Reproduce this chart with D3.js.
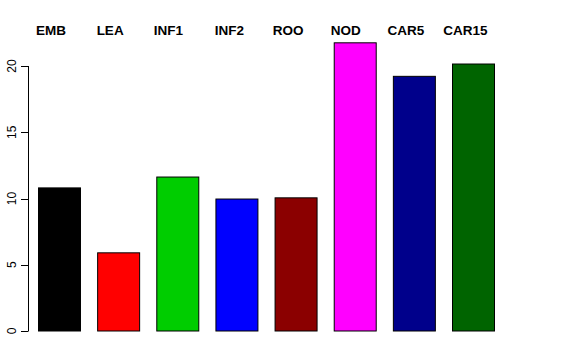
<!DOCTYPE html>
<html>
<head>
<meta charset="utf-8">
<script src="https://cdn.jsdelivr.net/npm/d3@7"></script>
<style>
  body { margin: 0; background: #fff; }
  svg { display: block; font-family: "Liberation Sans", Arial, sans-serif; }
</style>
</head>
<body>
<svg id="chart"></svg>
<script>
const width = 576;
const height = 360;

const categories = ["EMB", "LEA", "INF1", "INF2", "ROO", "NOD", "CAR5", "CAR15"];
const values = [10.8, 5.9, 11.62, 9.96, 10.05, 21.75, 19.22, 20.15];
const colors = ["#000000", "#ff0000", "#00cd00", "#0000ff", "#8b0000", "#ff00ff", "#00008b", "#006400"];
const yTicks = [0, 5, 10, 15, 20];
// how far each top label sits from its bar centre (px)
const labelShift = [-8, -8, -9, -7, -7.5, -9, -8, -7.5];

const svg = d3.select("#chart").attr("width", width).attr("height", height);

const x = d3.scaleBand().domain(categories).range([38, 494]).paddingInner(0.29).paddingOuter(0);
const y = d3.scaleLinear().domain([0, 20]).range([331, 66]);

svg.selectAll(".bar").data(categories).enter().append("rect")
  .attr("class", "bar")
  .attr("x", d => x(d) + 0.5)
  .attr("y", (d, i) => y(values[i]))
  .attr("width", x.bandwidth())
  .attr("height", (d, i) => y(0) - y(values[i]))
  .attr("fill", (d, i) => colors[i])
  .attr("stroke", "#000")
  .attr("stroke-width", 1);

// labels above the plot
svg.selectAll(".lab").data(categories).enter().append("text")
  .attr("class", "lab")
  .attr("x", (d, i) => x(d) + x.bandwidth() / 2 + labelShift[i])
  .attr("y", 35)
  .attr("text-anchor", "middle")
  .style("font-size", "13.5px")
  .style("font-weight", "bold")
  .text(d => d);

// y axis, R style
const axis = svg.append("g");
axis.append("line")
  .attr("x1", 28.5).attr("x2", 28.5)
  .attr("y1", y(0)).attr("y2", y(20))
  .attr("stroke", "#000");
axis.selectAll(".tick").data(yTicks).enter().append("line")
  .attr("x1", 21).attr("x2", 28.5)
  .attr("y1", d => Math.round(y(d)) + 0.5).attr("y2", d => Math.round(y(d)) + 0.5)
  .attr("stroke", "#000");
axis.selectAll(".tl").data(yTicks).enter().append("text")
  .attr("transform", d => `translate(16,${y(d)}) rotate(-90)`)
  .attr("text-anchor", "middle")
  .style("font-size", "12px")
  .text(d => d);
</script>
</body>
</html>
